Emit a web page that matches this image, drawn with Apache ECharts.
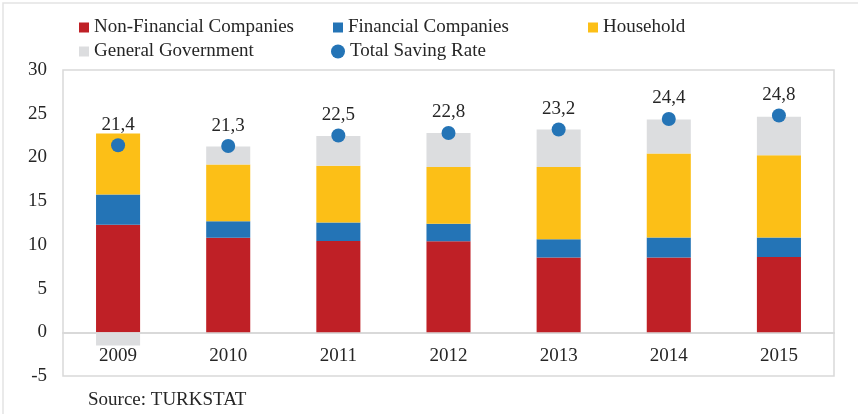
<!DOCTYPE html>
<html>
<head>
<meta charset="utf-8">
<script src="https://cdn.jsdelivr.net/npm/echarts@6/dist/echarts.min.js"></script>
<style>
  html, body { margin: 0; padding: 0; background: #fff; }
  #chart { width: 858px; height: 414px; }
</style>
</head>
<body>
<div id="chart"></div>
<script>
// values
const years = ['2009', '2010', '2011', '2012', '2013', '2014', '2015']
const nonFinancial = [12.3, 10.8, 10.45, 10.4, 8.55, 8.55, 8.6]
const financial = [3.45, 1.9, 2.1, 2.0, 2.1, 2.3, 2.25]
const household = [7.0, 6.5, 6.5, 6.5, 8.25, 9.6, 9.4]
const generalGov = [-1.5, 2.05, 3.4, 3.9, 4.3, 3.9, 4.4]
const totalRate = [21.4, 21.3, 22.5, 22.8, 23.2, 24.4, 24.8]
const yTicks = { min: -5, max: 30, step: 5 }

const FONT = '"Liberation Serif", "Times New Roman", serif'
const FS = 19
const TEXT = '#262626'
const colors = {
  red: '#BF2026',
  blue: '#2474B6',
  yellow: '#FCBF17',
  gray: '#DCDDDF',
}

const chart = echarts.init(document.getElementById('chart'))

const legendText = { fontFamily: FONT, fontSize: FS, color: TEXT }
const makeLegend = (name, left, top, icon) => ({
  data: [name],
  left,
  top,
  padding: 0,
  itemWidth: icon === 'circle' ? 14 : 10,
  itemHeight: icon === 'circle' ? 14 : 10,
  icon: icon || 'rect',
  textStyle: legendText,
  selectedMode: false,
})

const barSeries = (name, data, color) => ({
  name,
  type: 'bar',
  stack: 'total',
  barWidth: '40%',
  data,
  itemStyle: { color },
})

// grid geometry (y = 0 sits 44px above the bottom edge)
const gridTop = 70
const gridBottom = 38
const plotH = 414 - gridTop - gridBottom
const zeroOffset = -plotH * (0 - yTicks.min) / (yTicks.max - yTicks.min)

const option = {
  animation: false,
  textStyle: { fontFamily: FONT },
  legend: [
    makeLegend('Non-Financial Companies', 79, 18),
    makeLegend('Financial Companies', 333, 18),
    makeLegend('Household', 588, 18),
    makeLegend('General Government', 79, 42),
    makeLegend('Total Saving Rate', 331, 42, 'circle'),
  ],
  grid: {
    left: 63,
    right: 24,
    top: gridTop,
    bottom: gridBottom,
    show: true,
    borderColor: '#D9D9D9',
    borderWidth: 1.5,
  },
  xAxis: {
    type: 'category',
    data: years,
    offset: zeroOffset,
    axisLine: { onZero: false, lineStyle: { color: '#D9D9D9', width: 2 } },
    axisTick: { show: false },
    axisLabel: { margin: 14, fontFamily: FONT, fontSize: FS, color: TEXT },
  },
  yAxis: {
    type: 'value',
    min: yTicks.min,
    max: yTicks.max,
    interval: yTicks.step,
    splitLine: { show: false },
    axisLine: { show: false },
    axisTick: { show: false },
    axisLabel: { margin: 16, fontFamily: FONT, fontSize: FS, color: TEXT },
  },
  series: [
    barSeries('Non-Financial Companies', nonFinancial, colors.red),
    barSeries('Financial Companies', financial, colors.blue),
    barSeries('Household', household, colors.yellow),
    barSeries('General Government', generalGov, colors.gray),
    {
      name: 'Total Saving Rate',
      type: 'scatter',
      data: totalRate,
      symbolSize: 14,
      itemStyle: { color: colors.blue, opacity: 1 },
      z: 5,
      label: {
        show: true,
        position: 'top',
        distance: 4,
        fontFamily: FONT,
        fontSize: FS,
        color: TEXT,
        formatter: p => p.value.toFixed(1).replace('.', ','),
      },
    },
  ],
  graphic: [
    {
      type: 'rect',
      shape: { x: 3, y: 3, width: 1000, height: 1000 },
      style: { fill: 'none', stroke: '#E3E3E3', lineWidth: 1.5 },
      silent: true,
    },
    {
      type: 'text',
      left: 88,
      top: 391,
      style: { text: 'Source: TURKSTAT', font: FS + 'px ' + FONT, fill: TEXT },
    },
  ],
}

chart.setOption(option)
</script>
</body>
</html>
